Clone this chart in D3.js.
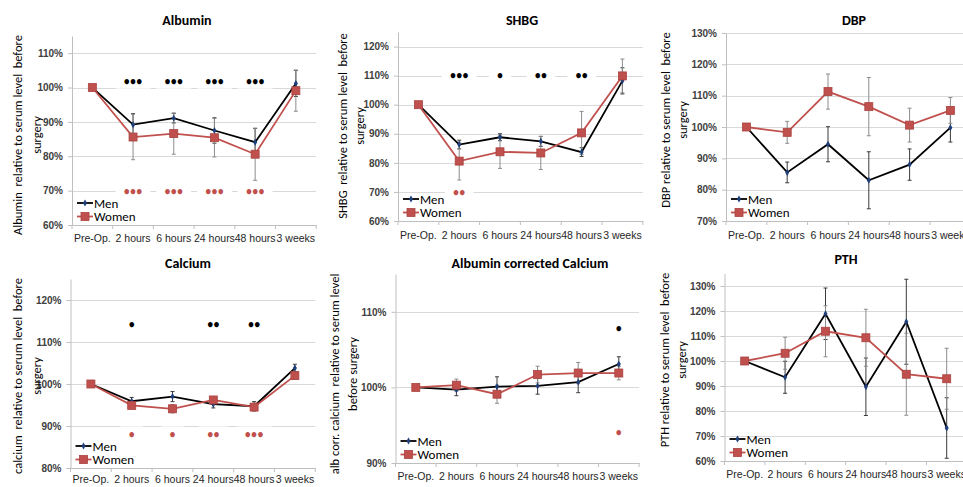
<!DOCTYPE html>
<html>
<head>
<meta charset="utf-8">
<script src="https://cdn.jsdelivr.net/npm/d3@7"></script>
<style>
  body { margin: 0; background: #fff; }
  svg { font-family: Carlito, Lato, "Open Sans", sans-serif; }
  .grid line { stroke: #d9d9d9; stroke-width: 1; }
  .axis path, .axis line, .sep line { stroke: #bfbfbf; }
  .y.axis text { font-size: 10px; font-weight: bold; fill: #404040; }
  .x.axis text { font-size: 10.5px; fill: #262626; }
  .title { font-size: 14px; font-weight: bold; fill: #000; }
  .ytitle { font-size: 12.5px; fill: #000; white-space: pre; }
  .legend text { font-size: 13px; fill: #000; }
  .stars text { font-size: 11px; font-weight: bold; letter-spacing: 0.8px; }
</style>
</head>
<body>
<div id="chart"></div>
<script>
var categories = ['Pre-Op.', '2 hours', '6 hours', '24 hours', '48 hours', '3 weeks'];

// values relative to the pre-op serum level, in %
var albuminMen = [100, 89.2, 91.1, 87.5, 84.1, 101.2];
var albuminMenErr = [0, 3.2, 1.4, 3.7, 4.0, 3.8];
var albuminWomen = [100, 85.6, 86.6, 85.4, 80.6, 99.1];
var albuminWomenErr = [0, 6.6, 6.0, 5.6, 7.6, 6.0];
var albuminTicks = [60, 70, 80, 90, 100, 110];
var albuminStars = [
  {cat: '2 hours', value: 102, text: '•••', sex: 'men'},
  {cat: '6 hours', value: 102, text: '•••', sex: 'men'},
  {cat: '24 hours', value: 102, text: '•••', sex: 'men'},
  {cat: '48 hours', value: 102, text: '•••', sex: 'men'},
  {cat: '2 hours', value: 69.8, text: '•••', sex: 'women'},
  {cat: '6 hours', value: 69.8, text: '•••', sex: 'women'},
  {cat: '24 hours', value: 69.8, text: '•••', sex: 'women'},
  {cat: '48 hours', value: 69.8, text: '•••', sex: 'women'}
];

var shbgMen = [100, 86.3, 88.8, 87.4, 83.7, 108.2];
var shbgMenErr = [0, 1.5, 1.2, 1.7, 1.5, 4.5];
var shbgWomen = [100, 80.6, 83.8, 83.4, 90.3, 109.9];
var shbgWomenErr = [0, 6.5, 5.7, 5.7, 7.4, 5.8];
var shbgTicks = [60, 70, 80, 90, 100, 110, 120];
var shbgStars = [
  {cat: '2 hours', value: 110, text: '•••', sex: 'men'},
  {cat: '6 hours', value: 110, text: '•', sex: 'men'},
  {cat: '24 hours', value: 110, text: '••', sex: 'men'},
  {cat: '48 hours', value: 110, text: '••', sex: 'men'},
  {cat: '2 hours', value: 69.8, text: '••', sex: 'women'}
];

var dbpMen = [100, 85.5, 94.5, 83.0, 88.0, 99.8];
var dbpMenErr = [0, 3.3, 5.6, 9.1, 5.0, 4.6];
var dbpWomen = [100, 98.3, 111.3, 106.5, 100.6, 105.3];
var dbpWomenErr = [0, 3.5, 5.6, 9.3, 5.4, 4.1];
var dbpTicks = [70, 80, 90, 100, 110, 120, 130];

var calciumMen = [100, 95.9, 97.0, 95.2, 94.7, 103.8];
var calciumMenErr = [0, 0.9, 1.2, 0.9, 1.1, 0.9];
var calciumWomen = [100, 94.9, 94.1, 96.2, 94.5, 102.0];
var calciumWomenErr = [0, 0.6, 1.0, 0.8, 0.9, 0.8];
var calciumTicks = [80, 90, 100, 110, 120];
var calciumStars = [
  {cat: '2 hours', value: 114.3, text: '•', sex: 'men'},
  {cat: '24 hours', value: 114.3, text: '••', sex: 'men'},
  {cat: '48 hours', value: 114.3, text: '••', sex: 'men'},
  {cat: '2 hours', value: 88, text: '•', sex: 'women'},
  {cat: '6 hours', value: 88, text: '•', sex: 'women'},
  {cat: '24 hours', value: 88, text: '••', sex: 'women'},
  {cat: '48 hours', value: 88, text: '•••', sex: 'women'}
];

var corrCalciumMen = [100, 99.7, 100.1, 100.2, 100.7, 103.1];
var corrCalciumMenErr = [0, 0.8, 1.3, 1.1, 1.4, 0.95];
var corrCalciumWomen = [100, 100.3, 99.1, 101.7, 101.9, 101.9];
var corrCalciumWomenErr = [0, 0.8, 1.2, 1.1, 1.4, 0.9];
var corrCalciumTicks = [90, 100, 110];
var corrCalciumStars = [
  {cat: '3 weeks', value: 107.9, text: '•', sex: 'men'},
  {cat: '3 weeks', value: 94.1, text: '•', sex: 'women'}
];

var pthMen = [100, 93.5, 118.9, 89.7, 115.7, 73.2];
var pthMenErr = [0, 6.4, 10.3, 11.5, 17.0, 12.1];
var pthWomen = [100, 103.1, 111.9, 109.3, 94.7, 92.9];
var pthWomenErr = [0, 6.4, 10.2, 11.4, 16.4, 12.2];
var pthTicks = [60, 70, 80, 90, 100, 110, 120, 130];

var menColor = '#000';
var womenColor = '#c0504d';

var panels = [
  {title: 'Albumin', yTitle: ['Albumin  relative to serum level  before', 'surgery'],
   men: albuminMen, menErr: albuminMenErr, women: albuminWomen, womenErr: albuminWomenErr,
   ticks: albuminTicks, stars: albuminStars, domain: [60, 115],
   left: 72, top: 36, bottom: 225, step: 40.7, titleX: 187, titleY: 20,
   yTitleX: [18, 37], yTitleY: 135, labelPad: 9.5},
  {title: 'SHBG', yTitle: ['SHBG  relative to serum level  before', 'surgery'],
   men: shbgMen, menErr: shbgMenErr, women: shbgWomen, womenErr: shbgWomenErr,
   ticks: shbgTicks, stars: shbgStars, domain: [60, 125],
   left: 398, top: 32, bottom: 221, step: 40.8, titleX: 522, titleY: 20,
   yTitleX: [343, 360], yTitleY: 126, labelPad: 10.5},
  {title: 'DBP', yTitle: ['DBP relative to serum level  before', 'surgery'],
   men: dbpMen, menErr: dbpMenErr, women: dbpWomen, womenErr: dbpWomenErr,
   ticks: dbpTicks, stars: [], domain: [70, 130],
   left: 726, top: 33, bottom: 221, step: 40.8, titleX: 854, titleY: 20,
   yTitleX: [666, 683], yTitleY: 120, labelPad: 10.5},
  {title: 'Calcium', yTitle: ['calcium  relative to serum level  before', 'surgery'],
   men: calciumMen, menErr: calciumMenErr, women: calciumWomen, womenErr: calciumWomenErr,
   ticks: calciumTicks, stars: calciumStars, domain: [80, 125],
   left: 70.5, top: 279, bottom: 468, step: 40.8, titleX: 188, titleY: 263,
   yTitleX: [18, 37], yTitleY: 376, labelPad: 7.5},
  {title: 'Albumin corrected Calcium', yTitle: ['alb corr. calcium  relative to serum level', 'before surgery'],
   men: corrCalciumMen, menErr: corrCalciumMenErr, women: corrCalciumWomen, womenErr: corrCalciumWomenErr,
   ticks: corrCalciumTicks, stars: corrCalciumStars, domain: [90, 115],
   left: 395.5, top: 274, bottom: 463, step: 40.6, titleX: 530, titleY: 263,
   yTitleX: [335, 353], yTitleY: 374, labelPad: 9.5},
  {title: 'PTH', yTitle: ['PTH relative to serum level  before', 'surgery'],
   men: pthMen, menErr: pthMenErr, women: pthWomen, womenErr: pthWomenErr,
   ticks: pthTicks, stars: [], domain: [60, 135],
   left: 724.5, top: 273.5, bottom: 461, step: 40.4, titleX: 846, titleY: 259,
   yTitleX: [665, 682], yTitleY: 360, labelPad: 9.5}
];

var svg = d3.select('#chart').append('svg')
  .attr('width', 963)
  .attr('height', 487);

panels.forEach(function(p) { drawPanel(svg, p); });

function drawPanel(svg, p) {
  var right = p.left + categories.length * p.step;
  var x = d3.scaleBand().domain(categories).range([p.left, right]);
  var y = d3.scaleLinear().domain(p.domain).range([p.bottom, p.top]);
  var cx = function(c) { return x(c) + x.bandwidth() / 2; };

  var g = svg.append('g').attr('class', 'panel');

  g.append('g')
    .attr('class', 'grid')
    .selectAll('line')
    .data(p.ticks.filter(function(t) { return t !== p.domain[0]; }))
    .enter().append('line')
    .attr('x1', p.left)
    .attr('x2', right)
    .attr('y1', function(d) { return Math.round(y(d)) + 0.5; })
    .attr('y2', function(d) { return Math.round(y(d)) + 0.5; });

  // significance marks sit on small white boxes that break the gridlines
  var stars = g.append('g')
    .attr('class', 'stars')
    .selectAll('g')
    .data(p.stars)
    .enter().append('g')
    .attr('transform', function(d) { return 'translate(' + cx(d.cat) + ',' + y(d.value) + ')'; });

  stars.append('rect').attr('fill', '#fff');
  stars.append('text')
    .attr('text-anchor', 'middle')
    .attr('dx', '0.4px')
    .attr('dy', '0.35em')
    .style('fill', function(d) { return d.sex === 'men' ? menColor : womenColor; })
    .text(function(d) { return d.text; });
  stars.each(function() {
    var w = d3.select(this).select('text').node().getComputedTextLength() + 16;
    d3.select(this).select('rect')
      .attr('x', -w / 2).attr('y', -8).attr('width', w).attr('height', 16);
  });

  g.append('g')
    .attr('class', 'y axis')
    .attr('transform', 'translate(' + p.left + ',0)')
    .call(d3.axisLeft(y)
      .tickValues(p.ticks)
      .tickSize(4)
      .tickSizeOuter(0)
      .tickPadding(5)
      .tickFormat(function(d) { return d + '%'; }));

  g.append('g')
    .attr('class', 'x axis')
    .attr('transform', 'translate(0,' + p.bottom + ')')
    .call(d3.axisBottom(x).tickSize(0).tickPadding(p.labelPad));

  g.append('g')
    .attr('class', 'sep')
    .selectAll('line')
    .data(d3.range(categories.length + 1))
    .enter().append('line')
    .attr('x1', function(i) { return x.range()[0] + i * x.step(); })
    .attr('x2', function(i) { return x.range()[0] + i * x.step(); })
    .attr('y1', p.bottom)
    .attr('y2', p.bottom + 4);

  var menPts = toPoints(p.men, p.menErr);
  var womenPts = toPoints(p.women, p.womenErr);

  errorBars(menPts, '#3a3a3a');
  errorBars(womenPts, '#8c8c8c');

  var line = d3.line()
    .x(function(d) { return cx(d.cat); })
    .y(function(d) { return y(d.v); });

  g.append('path')
    .datum(menPts)
    .attr('fill', 'none')
    .attr('stroke', menColor)
    .attr('stroke-width', 1.8)
    .attr('d', line);

  g.append('path')
    .datum(womenPts)
    .attr('fill', 'none')
    .attr('stroke', womenColor)
    .attr('stroke-width', 1.8)
    .attr('d', line);

  g.append('g')
    .selectAll('path')
    .data(menPts)
    .enter().append('path')
    .attr('d', d3.symbol(d3.symbolDiamond, 14))
    .attr('fill', '#1f3f7a')
    .attr('transform', function(d) { return 'translate(' + cx(d.cat) + ',' + y(d.v) + ')'; });

  g.append('g')
    .selectAll('rect')
    .data(womenPts)
    .enter().append('rect')
    .attr('x', function(d) { return cx(d.cat) - 4; })
    .attr('y', function(d) { return y(d.v) - 4; })
    .attr('width', 8)
    .attr('height', 8)
    .attr('fill', womenColor)
    .attr('stroke', '#a94340')
    .attr('stroke-width', 0.8);

  g.append('text')
    .attr('class', 'title')
    .attr('x', p.titleX)
    .attr('y', p.titleY)
    .attr('dy', '0.35em')
    .attr('text-anchor', 'middle')
    .text(p.title);

  p.yTitle.forEach(function(t, i) {
    g.append('text')
      .attr('class', 'ytitle')
      .attr('text-anchor', 'middle')
      .attr('dy', '0.35em')
      .attr('transform', 'translate(' + p.yTitleX[i] + ',' + p.yTitleY + ') rotate(-90)')
      .text(t);
  });

  var legend = g.append('g')
    .attr('class', 'legend')
    .attr('transform', 'translate(' + (p.left + 5) + ',' + p.bottom + ')');

  var men = legend.append('g').attr('transform', 'translate(0,-22)');
  men.append('line').attr('x1', 0).attr('x2', 16).attr('stroke', menColor).attr('stroke-width', 1.8);
  men.append('path').attr('d', d3.symbol(d3.symbolDiamond, 14)).attr('fill', '#1f3f7a').attr('transform', 'translate(8,0)');
  men.append('text').attr('x', 17).attr('dy', '0.35em').text('Men');

  var women = legend.append('g').attr('transform', 'translate(0,-8.5)');
  women.append('line').attr('x1', 0).attr('x2', 16).attr('stroke', womenColor).attr('stroke-width', 1.8);
  women.append('rect').attr('x', 4).attr('y', -4).attr('width', 8).attr('height', 8)
    .attr('fill', womenColor).attr('stroke', '#a94340').attr('stroke-width', 0.8);
  women.append('text').attr('x', 17).attr('dy', '0.35em').text('Women');

  function toPoints(values, errs) {
    return values.map(function(v, i) {
      return {cat: categories[i], v: v, e: errs[i]};
    });
  }

  function errorBars(pts, color) {
    var eb = g.append('g')
      .attr('class', 'errorbars')
      .selectAll('g')
      .data(pts.filter(function(d) { return d.e > 0; }))
      .enter().append('g')
      .attr('stroke', color)
      .attr('stroke-width', 1);

    eb.append('line')
      .attr('x1', function(d) { return cx(d.cat); })
      .attr('x2', function(d) { return cx(d.cat); })
      .attr('y1', function(d) { return y(d.v - d.e); })
      .attr('y2', function(d) { return y(d.v + d.e); });

    [-1, 1].forEach(function(s) {
      eb.append('line')
        .attr('x1', function(d) { return cx(d.cat) - 2; })
        .attr('x2', function(d) { return cx(d.cat) + 2; })
        .attr('y1', function(d) { return y(d.v + s * d.e); })
        .attr('y2', function(d) { return y(d.v + s * d.e); });
    });
  }
}
</script>
</body>
</html>
